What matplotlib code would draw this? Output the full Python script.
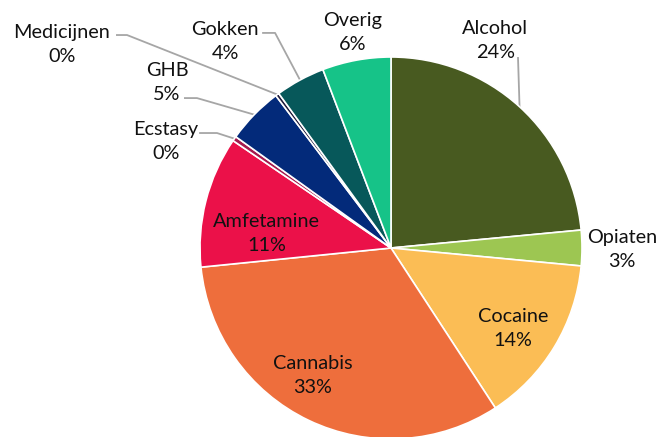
import numpy as np
import matplotlib
matplotlib.use('Agg')
import matplotlib.pyplot as plt

categories = ['Alcohol', 'Opiaten', 'Cocaine', 'Cannabis', 'Amfetamine',
              'Ecstasy', 'GHB', 'Medicijnen', 'Gokken', 'Overig']
shares = [23.5, 3.0, 14.3, 32.6, 11.1, 0.4, 4.8, 0.3, 4.2, 5.8]
colors = ['#485A20', '#9DC652', '#FBBD55', '#EE6E3C', '#EB1149',
          '#A51A4E', '#032A7A', '#1E1A3A', '#07585A', '#16C388']

# label text centers (pie radius = 1)
label_pos = {
    'Alcohol': (0.545, 1.089),
    'Opiaten': (1.209, -0.010),
    'Cocaine': (0.639, -0.419),
    'Cannabis': (-0.408, -0.665),
    'Amfetamine': (-0.650, 0.076),
    'Ecstasy': (-1.178, 0.560),
    'GHB': (-1.173, 0.869),
    'Medicijnen': (-1.723, 1.063),
    'Gokken': (-0.869, 1.079),
    'Overig': (-0.199, 1.126),
}
# leader start + knee points
leaders = {
    'Alcohol': [(0.665, 0.995)],
    'Ecstasy': [(-1.0, 0.602), (-0.911, 0.602)],
    'GHB': [(-1.079, 0.785), (-1.016, 0.785)],
    'Medicijnen': [(-1.435, 1.115), (-1.382, 1.115)],
    'Gokken': [(-0.670, 1.126), (-0.607, 1.126)],
}

plt.rcParams['font.family'] = ['Lato', 'DejaVu Sans']

fig = plt.figure(figsize=(6.62, 4.37), dpi=100)
ax = fig.add_axes([0, 0, 1, 1])
wedges, _ = ax.pie(shares, colors=colors, startangle=90, counterclock=False,
                   radius=1, wedgeprops=dict(edgecolor='white', linewidth=1.2))

total = sum(shares)
for w, name, v in zip(wedges, categories, shares):
    x, y = label_pos[name]
    ax.text(x, y, f'{name}\n{round(v / total * 100):.0f}%', ha='center', va='center',
            fontsize=14.3, color='#111111', linespacing=1.5)
    if name in leaders:
        mid = np.deg2rad((w.theta1 + w.theta2) / 2)
        pts = leaders[name] + [(np.cos(mid), np.sin(mid))]
        xs, ys = zip(*pts)
        ax.plot(xs, ys, color='#A6A6A6', lw=1.3, zorder=0.5)

ax.set_aspect('auto')
ax.set_xlim(-391 / 191, (662 - 391) / 191)
ax.set_ylim(-(437 - 248) / 191, 248 / 191)
ax.axis('off')
fig.savefig('out.png', dpi=100)
